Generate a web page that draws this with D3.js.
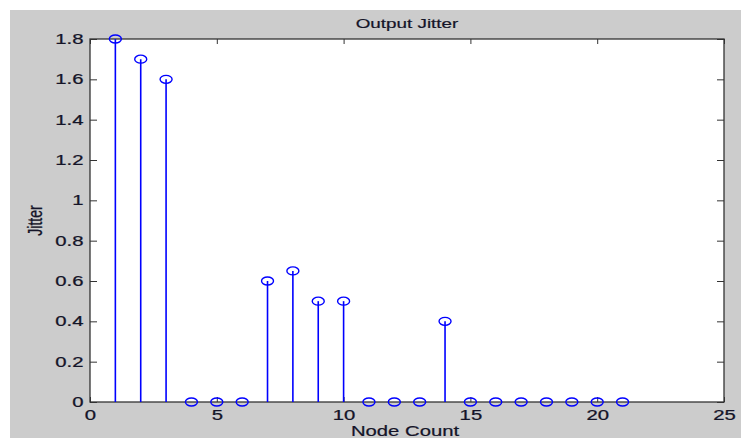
<!DOCTYPE html>
<html><head><meta charset="utf-8">
<script src="https://cdn.jsdelivr.net/npm/d3@7"></script>
<style>html,body{margin:0;padding:0;background:#fff;}svg{display:block;}</style>
</head><body>
<svg id="chart" width="741" height="438"></svg>
<script>
const nodeCount = [1,2,3,4,5,6,7,8,9,10,11,12,13,14,15,16,17,18,19,20,21];
const jitter    = [1.8,1.7,1.6,0,0,0,0.6,0.65,0.5,0.5,0,0,0,0.4,0,0,0,0,0,0,0];
const xTicks = [0,5,10,15,20,25];
const yTicks = [0,0.2,0.4,0.6,0.8,1,1.2,1.4,1.6,1.8];
const titleText = "Output Jitter";
const xLabel = "Node Count";
const yLabel = "Jitter";

const W = 741, H = 438;
const L = 90, R = 724, T = 39, B = 402;
const SX = 1.45;
const svg = d3.select("#chart");
svg.append("rect").attr("x",10).attr("y",10).attr("width",W-10).attr("height",H-10).attr("fill","#cccccc");
svg.append("rect").attr("x",L).attr("y",T).attr("width",R-L).attr("height",B-T).attr("fill","#fff");

const x = d3.scaleLinear().domain([0,25]).range([L,R]);
const y = d3.scaleLinear().domain([0,1.8]).range([B,T]);
const fmt = d => d3.format("")(+d.toFixed(1));
const tf = "'Liberation Sans', Arial, sans-serif";
const tc = "#141428";

function styleAxis(g){
  g.select(".domain").remove();
  g.selectAll(".tick line").attr("stroke","#333").attr("stroke-width",1);
  g.selectAll("text").attr("fill",tc).attr("font-family",tf).attr("font-size",14)
    .attr("stroke",tc).attr("stroke-width",0.25);
}
const gB = svg.append("g").attr("transform",`translate(0,${B})`)
  .call(d3.axisBottom(x).tickValues(xTicks).tickFormat(fmt).tickSizeInner(-5).tickSizeOuter(0).tickPadding(8));
styleAxis(gB);
gB.selectAll("text").attr("transform",`scale(${SX},1)`);
const gT = svg.append("g").attr("transform",`translate(0,${T})`)
  .call(d3.axisTop(x).tickValues(xTicks).tickFormat("").tickSizeInner(-5).tickSizeOuter(0));
styleAxis(gT);
const gL = svg.append("g").attr("transform",`translate(${L},0)`)
  .call(d3.axisLeft(y).tickValues(yTicks).tickFormat(fmt).tickSizeInner(-7).tickSizeOuter(0).tickPadding(4.5));
styleAxis(gL);
gL.selectAll("text").attr("transform",`scale(${SX},1)`);
const gR = svg.append("g").attr("transform",`translate(${R},0)`)
  .call(d3.axisRight(y).tickValues(yTicks).tickFormat("").tickSizeInner(-7).tickSizeOuter(0));
styleAxis(gR);

svg.append("rect").attr("x",L).attr("y",T).attr("width",R-L).attr("height",B-T)
  .attr("fill","none").attr("stroke","#333").attr("stroke-width",1.3);

const data = nodeCount.map((n,i)=>({n, v:jitter[i]}));
svg.append("g").selectAll("line").data(data).join("line")
  .attr("x1",d=>x(d.n)).attr("x2",d=>x(d.n))
  .attr("y1",y(0)).attr("y2",d=>y(d.v))
  .attr("stroke","#0000ff").attr("stroke-width",1.6);
svg.append("g").selectAll("ellipse").data(data).join("ellipse")
  .attr("cx",d=>x(d.n)).attr("cy",d=>y(d.v))
  .attr("rx",6).attr("ry",4)
  .attr("fill","none").attr("stroke","#0000ff").attr("stroke-width",1.4);

svg.append("text").attr("transform",`translate(${(L+R)/2},28) scale(${SX},1)`)
  .attr("text-anchor","middle").attr("font-family",tf).attr("font-size",13).attr("fill",tc)
  .attr("stroke",tc).attr("stroke-width",0.2).text(titleText);
svg.append("text").attr("transform",`translate(${(L+R)/2 - 2},435.5) scale(${SX},1)`)
  .attr("text-anchor","middle").attr("font-family",tf).attr("font-size",14).attr("fill",tc)
  .attr("stroke",tc).attr("stroke-width",0.2).text(xLabel);
svg.append("text").attr("transform",`translate(42,${(T+B)/2}) scale(${SX},1) rotate(-90)`)
  .attr("text-anchor","middle").attr("font-family",tf).attr("font-size",14).attr("fill",tc)
  .attr("stroke",tc).attr("stroke-width",0.2).text(yLabel);
</script>
</body></html>
